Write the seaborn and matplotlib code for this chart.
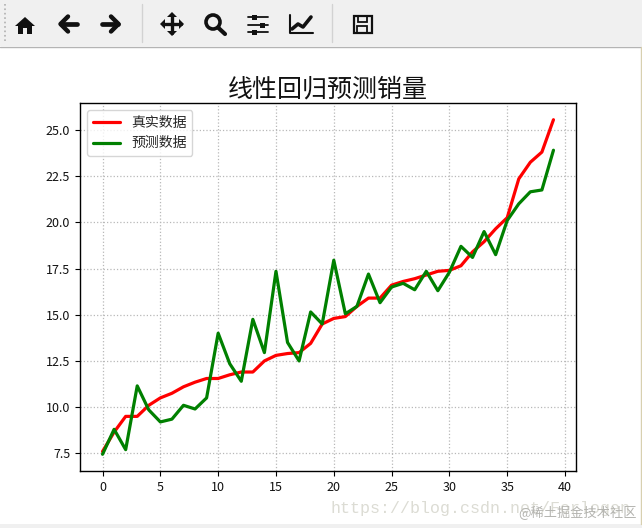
import matplotlib
matplotlib.use('Agg')
import matplotlib.pyplot as plt
from matplotlib.patches import Circle, Polygon, Rectangle
import numpy as np
import seaborn as sns

real_sales = [7.6, 8.65, 9.5, 9.5, 10.1, 10.5, 10.75, 11.1, 11.35, 11.55,
              11.55, 11.75, 11.9, 11.9, 12.5, 12.8, 12.9, 12.95, 13.45, 14.5,
              14.8, 14.9, 15.45, 15.9, 15.9, 16.6, 16.8, 16.95, 17.15, 17.35,
              17.4, 17.65, 18.4, 18.95, 19.65, 20.25, 22.35, 23.25, 23.8, 25.55]
pred_sales = [7.45, 8.8, 7.7, 11.15, 9.85, 9.2, 9.35, 10.1, 9.9, 10.5,
              14.0, 12.35, 11.4, 14.75, 12.95, 17.35, 13.5, 12.5, 15.15, 14.5,
              17.95, 15.05, 15.45, 17.2, 15.65, 16.5, 16.7, 16.35, 17.35, 16.3,
              17.3, 18.7, 18.1, 19.5, 18.25, 20.1, 21.0, 21.65, 21.75, 23.9]
sample_index = list(range(len(real_sales)))

W, H = 642, 528
FONTS = ['Noto Sans CJK SC', 'DejaVu Sans']

sns.set_style('ticks')
plt.rcParams['font.family'] = FONTS
plt.rcParams['axes.unicode_minus'] = False

fig = plt.figure(figsize=(W / 100, H / 100), dpi=100, facecolor='white')
ax = fig.add_axes([80 / W, 1 - 471 / H, (576 - 80) / W, (471 - 103) / H])

sns.lineplot(x=sample_index, y=real_sales, color='red', linewidth=2.3, label='真实数据', ax=ax)
sns.lineplot(x=sample_index, y=pred_sales, color='green', linewidth=2.3, label='预测数据', ax=ax)

ax.set_title('线性回归预测销量', fontsize=18, pad=5, color='#111111')
ax.grid(True, linestyle=':', color='#b8b8b8', linewidth=0.9)
ax.set_axisbelow(True)
ax.tick_params(labelsize=9, length=3.5, width=0.8, color='black', labelcolor='#111111')
for spine in ax.spines.values():
    spine.set_visible(True)
    spine.set_color('black')
    spine.set_linewidth(1)
ax.legend(loc='upper left', fontsize=10, frameon=True, framealpha=0.8, edgecolor='#cccccc')

# screenshot furniture: toolbar, bottom strip, watermarks (pixel coords)
ui = fig.add_axes([0, 0, 1, 1], zorder=5)
ui.set_xlim(0, W)
ui.set_ylim(H, 0)
ui.axis('off')
ui.patch.set_alpha(0)

ui.add_patch(Rectangle((0, 0), W, 46, color='#f0f0f0', lw=0))
ui.plot([0, W], [46.5, 46.5], color='#b4b4b4', lw=1)
ui.add_patch(Rectangle((0, 524), W, 4, color='#f0f0f0', lw=0))
ui.plot([640.5, 640.5], [47, 524], color='#d8d0b0', lw=1)
for sep_x in [141.5, 331.5]:
    ui.plot([sep_x, sep_x], [4, 42], color='#d2d2d2', lw=1)
ui.plot([4.5, 4.5], [4, 42], color='#b0b0b0', lw=1.2, linestyle=':')

dark = '#111111'
# home
ui.add_patch(Polygon([(15, 26), (25, 17), (35, 26)], closed=True, color=dark, lw=0))
ui.add_patch(Rectangle((18, 26), 14, 7.5, color=dark, lw=0))
ui.add_patch(Rectangle((23, 28), 4, 5.5, color='#f0f0f0', lw=0))
# arrows
ui.plot([68, 60.5, 68], [16.5, 24, 31.5], color=dark, lw=3.2, solid_capstyle='round')
ui.plot([61, 77], [24, 24], color=dark, lw=3.4)
ui.plot([111, 118.5, 111], [16.5, 24, 31.5], color=dark, lw=3.2, solid_capstyle='round')
ui.plot([102, 118], [24, 24], color=dark, lw=3.4)
# move
ui.plot([163, 181], [24, 24], color=dark, lw=2.4)
ui.plot([172, 172], [15, 33], color=dark, lw=2.4)
for tri in ([(165, 19), (165, 29), (160, 24)], [(179, 19), (179, 29), (184, 24)],
            [(167, 17), (177, 17), (172, 12)], [(167, 31), (177, 31), (172, 36)]):
    ui.add_patch(Polygon(tri, closed=True, color=dark, lw=0))
# zoom
ui.add_patch(Circle((213, 22), 7, fill=False, edgecolor=dark, lw=2.6))
ui.plot([218, 225], [27.5, 34], color=dark, lw=3)
# sliders
for row_y, knob_x in [(17, 254), (25, 262), (32, 254)]:
    ui.plot([248, 268], [row_y, row_y], color=dark, lw=1.3)
    ui.add_patch(Rectangle((knob_x - 2, row_y - 2.5), 5, 5, color=dark, lw=0))
# chart
ui.plot([290, 290, 313], [15, 33, 33], color=dark, lw=1.5)
ui.plot([292, 298, 303, 311], [29, 24, 27, 17], color=dark, lw=2.6)
# save
ui.add_patch(Rectangle((353.5, 15.5), 18, 17.5, fill=False, edgecolor=dark, lw=1.6))
ui.add_patch(Rectangle((357.5, 15.5), 9, 6, fill=False, edgecolor=dark, lw=1.3))
ui.add_patch(Rectangle((357, 26), 10, 7, fill=False, edgecolor=dark, lw=1.3))

ui.text(331, 513, 'https://blog.csdn.net/Forlogen', fontsize=12, color='#dcdcd4',
        family=['Liberation Mono', 'DejaVu Sans Mono'], va='baseline')
ui.text(637, 517, '@稀土掘金技术社区', fontsize=9.5, color='#b4b4b0', ha='right',
        family=FONTS, va='baseline')

fig.savefig('out.png', dpi=100)
